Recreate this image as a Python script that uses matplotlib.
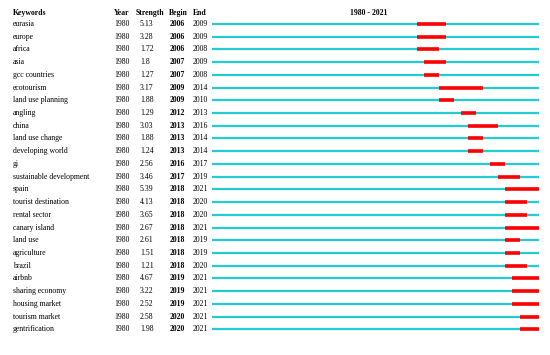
import matplotlib.pyplot as plt

# keywords with burst data (CiteSpace style)
keywords = ['eurasia', 'europe', 'africa', 'asia', 'gcc countries', 'ecotourism',
            'land use planning', 'angling', 'china', 'land use change', 'developing world',
            'gi', 'sustainable development', 'spain', 'tourist destination', 'rental sector',
            'canary island', 'land use', 'agriculture', 'brazil', 'airbnb', 'sharing economy',
            'housing market', 'tourism market', 'gentrification']
years = [1980] * len(keywords)
strength = ['5.13', '3.28', '1.72', '1.8', '1.27', '3.17', '1.88', '1.29', '3.03', '1.88',
            '1.24', '2.56', '3.46', '5.39', '4.13', '3.65', '2.67', '2.61', '1.51', '1.21',
            '4.67', '3.22', '2.52', '2.58', '1.98']
begin = [2006, 2006, 2006, 2007, 2007, 2009, 2009, 2012, 2013, 2013, 2013, 2016, 2017,
         2018, 2018, 2018, 2018, 2018, 2018, 2018, 2019, 2019, 2019, 2020, 2020]
end = [2009, 2009, 2008, 2009, 2008, 2014, 2010, 2013, 2016, 2014, 2014, 2017, 2019,
       2021, 2020, 2020, 2021, 2019, 2019, 2020, 2021, 2021, 2021, 2021, 2021]
start_year, end_year = 1980, 2021

plt.rcParams['font.family'] = 'Liberation Serif'
fs = 5.6

fig = plt.figure(figsize=(5.5, 3.55), dpi=100)
ax = fig.add_axes([0, 0, 1, 1])
ax.set_xlim(0, 550)
ax.set_ylim(355, 0)
ax.axis('off')

# timeline strip, a little padding on both ends like CiteSpace
W = 550
x0, x1 = 212, 539
lo, hi = start_year - 1.97, end_year + 1.64
tl = fig.add_axes([x0 / W, 0, (x1 - x0) / W, 1])
tl.set_xlim(lo, hi)
tl.set_ylim(355, 0)
tl.axis('off')

head_y = 13
row0, dy = 24, 12.72

ax.text(13, head_y, 'Keywords', fontsize=fs, fontweight='bold', va='center')
ax.text(114, head_y, 'Year', fontsize=fs, fontweight='bold', va='center')
ax.text(136, head_y, 'Strength', fontsize=fs, fontweight='bold', va='center')
ax.text(169, head_y, 'Begin', fontsize=fs, fontweight='bold', va='center')
ax.text(193, head_y, 'End', fontsize=fs, fontweight='bold', va='center')
ax.text(369, head_y, f'{start_year} - {end_year}',
        fontsize=fs, fontweight='bold', va='center', ha='center')

for i, kw in enumerate(keywords):
    y = row0 + i * dy
    ax.text(13, y, kw, fontsize=fs, va='center')
    ax.text(114, y, str(years[i]), fontsize=fs, va='center')
    ax.text(140, y, strength[i], fontsize=fs, va='center')
    ax.text(170, y, str(begin[i]), fontsize=fs, fontweight='bold', va='center')
    ax.text(193, y, str(end[i]), fontsize=fs, va='center')
    tl.hlines(y, lo, hi, color='#22ccd2', lw=1.6)
    stop = hi if end[i] == end_year else end[i] + 1
    tl.hlines(y, begin[i], stop, color='#ff0000', lw=2.6)

fig.savefig('out.png', dpi=100)
